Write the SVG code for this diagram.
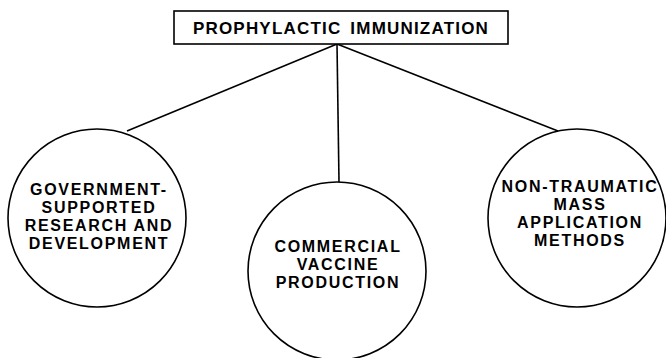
<svg xmlns="http://www.w3.org/2000/svg" width="666" height="358" viewBox="0 0 666 358">
<style>
.shape{fill:#fff;stroke:#000;stroke-width:1.6}
.conn{stroke:#000;stroke-width:1.6;fill:none}
.t{font-family:"Liberation Sans",Arial,sans-serif;font-weight:bold;font-size:16px;letter-spacing:1.7px;text-anchor:middle;fill:#000}
</style>
<rect width="666" height="358" fill="#fff"/>
<g id="connectors">
<line class="conn" x1="337" y1="44" x2="127" y2="131"/>
<line class="conn" x1="337" y1="44" x2="339" y2="182"/>
<line class="conn" x1="337" y1="44" x2="558" y2="131"/>
</g>
<g id="title">
<rect class="shape" x="174" y="11" width="334" height="33"/>
<text class="t" x="341" y="34" style="font-size:17px;letter-spacing:1.2px;word-spacing:3px">PROPHYLACTIC IMMUNIZATION</text>
</g>
<g id="government">
<circle class="shape" cx="97" cy="218" r="89"/>
<text class="t" x="99" y="195">GOVERNMENT-</text>
<text class="t" x="99" y="213">SUPPORTED</text>
<text class="t" x="99" y="231">RESEARCH AND</text>
<text class="t" x="99" y="249">DEVELOPMENT</text>
</g>
<g id="commercial">
<circle class="shape" cx="337" cy="271" r="89"/>
<text class="t" x="338" y="252">COMMERCIAL</text>
<text class="t" x="338" y="270">VACCINE</text>
<text class="t" x="338" y="288">PRODUCTION</text>
</g>
<g id="nontraumatic">
<circle class="shape" cx="577" cy="218" r="89"/>
<text class="t" x="580" y="192">NON-TRAUMATIC</text>
<text class="t" x="580" y="210">MASS</text>
<text class="t" x="580" y="228">APPLICATION</text>
<text class="t" x="580" y="246">METHODS</text>
</g>
</svg>
